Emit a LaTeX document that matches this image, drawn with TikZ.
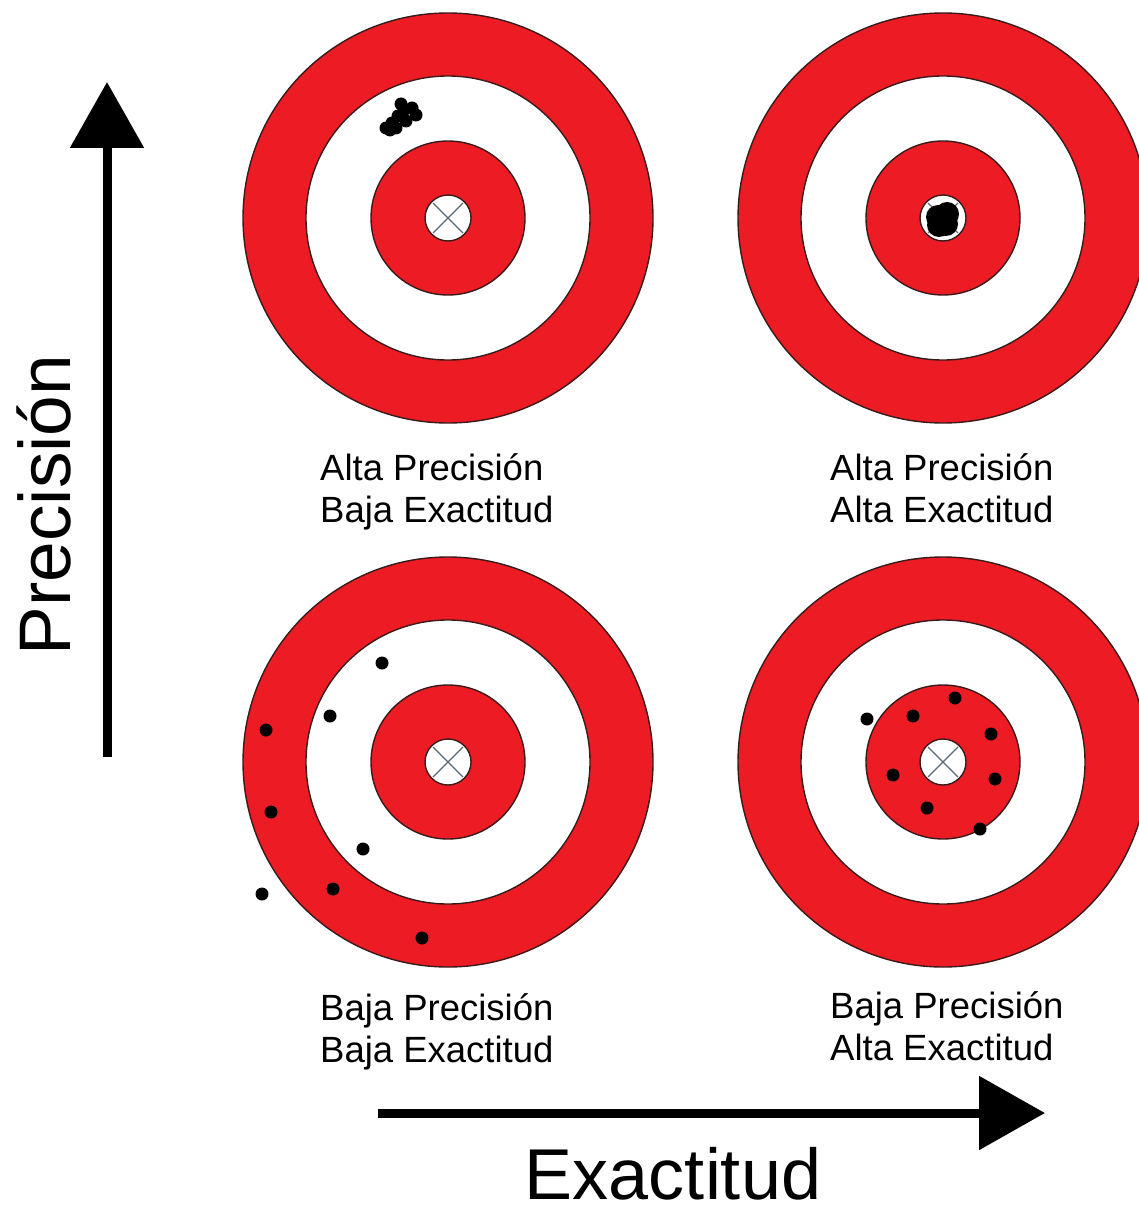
\documentclass[tikz,border=0pt]{standalone}
\usepackage{fontspec}
\setmainfont{Liberation Sans}
\usetikzlibrary{arrows.meta}
\definecolor{tred}{HTML}{ED1C24}
\definecolor{ringc}{HTML}{3A1A1A}
\definecolor{crossc}{HTML}{5A6A78}
\begin{document}
\begin{tikzpicture}[x=1pt,y=-1pt,
  ringline/.style={draw=ringc, line width=1.4pt},
  shot/.style={circle, fill=black, inner sep=0pt, minimum size=13pt},
  bigshot/.style={circle, fill=black, inner sep=0pt, minimum size=24pt},
  lab/.style={anchor=base west, inner sep=0pt, font=\fontsize{36.5}{42}\selectfont},
  axisarrow/.style={line width=9pt, -{Triangle[length=66pt,width=72pt]}}]
\useasboundingbox (0,0) rectangle (1138,1214);
\fill[white] (0,0) rectangle (1138,1214);

% targets
\foreach \cx/\cy in {448/218, 943/218, 448/762, 943/762}{
  \filldraw[ringline, fill=tred] (\cx,\cy) circle[radius=205pt];
  \filldraw[ringline, fill=white] (\cx,\cy) circle[radius=142pt];
  \filldraw[ringline, fill=tred] (\cx,\cy) circle[radius=77pt];
  \filldraw[ringline, fill=white] (\cx,\cy) circle[radius=23pt];
  \draw[crossc, line width=1.2pt] (\cx-15,\cy-15) -- (\cx+15,\cy+15);
  \draw[crossc, line width=1.2pt] (\cx-15,\cy+15) -- (\cx+15,\cy-15);
}

% top-left: tight cluster off centre
\foreach \x/\y [count=\i] in {386/128, 392/123, 398/116, 404/110, 412/108, 416/115, 406/121, 396/128, 401/104, 390/130}
  \node[shot] (tl\i) at (\x,\y) {};

% top-right: cluster on centre
\foreach \x/\y [count=\i] in {938/217, 947/214, 946/224, 939/225}
  \node[bigshot] (tr\i) at (\x,\y) {};

% bottom-left: scattered
\foreach \x/\y [count=\i] in {382/663, 330/716, 266/730, 271/812, 363/849, 262/894, 333/889, 422/938}
  \node[shot] (bl\i) at (\x,\y) {};

% bottom-right: around centre
\foreach \x/\y [count=\i] in {867/719, 913/716, 955/698, 991/734, 893/775, 995/779, 927/808, 980/829}
  \node[shot] (br\i) at (\x,\y) {};

% labels
\node[lab] (l1a) at (320,480) {Alta Precisión};
\node[lab] (l1b) at (320,522) {Baja Exactitud};
\node[lab] (l2a) at (830,480) {Alta Precisión};
\node[lab] (l2b) at (830,522) {Alta Exactitud};
\node[lab] (l3a) at (320,1020) {Baja Precisión};
\node[lab] (l3b) at (320,1062) {Baja Exactitud};
\node[lab] (l4a) at (830,1018) {Baja Precisión};
\node[lab] (l4b) at (830,1060) {Alta Exactitud};

% axes
\coordinate (pstart) at (107,757);
\coordinate (pend) at (107,82);
\draw[axisarrow] (pstart) -- (pend);
\coordinate (estart) at (378,1113);
\coordinate (eend) at (1045,1113);
\draw[axisarrow] (estart) -- (eend);

\node[anchor=base, inner sep=0pt, rotate=90, font=\fontsize{73}{80}\selectfont] (prec) at (70,505) {Precisión};
\node[anchor=base, inner sep=0pt, font=\fontsize{72}{80}\selectfont] (exac) at (673,1199) {Exactitud};
\end{tikzpicture}
\end{document}
